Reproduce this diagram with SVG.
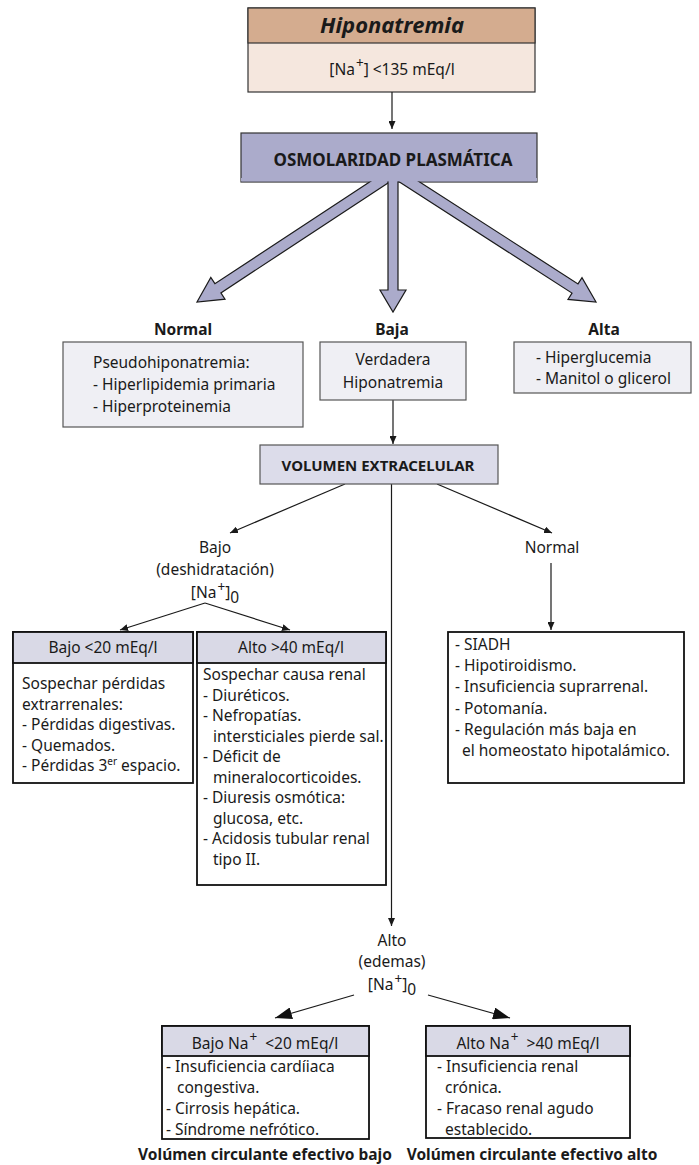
<svg xmlns="http://www.w3.org/2000/svg" width="699" height="1165" viewBox="0 0 699 1165">
<style>
.t{font-family:"Noto Sans","Open Sans","Liberation Sans",sans-serif;font-size:15.5px;fill:#1a1a1a}
.b{font-weight:bold}
.c{text-anchor:middle}
.title{font-size:22px;font-style:italic}
.osm{font-size:17px}
.vol{font-size:15px}
.foot{font-size:15.5px}
.sup{font-size:13.5px}
.sm{font-size:10px}
.ln{stroke:#1a1a1a;stroke-width:1.2;fill:none}
.lbox{fill:#efeff4;stroke:#555;stroke-width:1.2}
.cbox{fill:#fff;stroke:#111;stroke-width:1.8}
.hdr{fill:#d9d9e6;stroke:#111;stroke-width:1.8}
.fat{fill:#ababcb;stroke:#1a1a1a;stroke-width:1.2;stroke-linejoin:miter}
</style>
<defs>
<marker id="aS" markerUnits="userSpaceOnUse" markerWidth="8" markerHeight="7" refX="8" refY="3.5" orient="auto"><path d="M0,0 L8,3.5 L0,7 z" fill="#1a1a1a"/></marker>
<marker id="aB" markerUnits="userSpaceOnUse" markerWidth="17" markerHeight="12" refX="17" refY="6" orient="auto"><path d="M0,0 L17,6 L0,12 z" fill="#111"/></marker>
</defs>

<g id="hiponatremia">
<rect x="248" y="8" width="287" height="84" fill="#f5e7de" stroke="#333" stroke-width="1.2"/>
<rect x="248" y="8" width="287" height="35" fill="#d4ac8f" stroke="#333" stroke-width="1.2"/>
<text class="t b c title" x="392" y="33">Hiponatremia</text>
<text class="t c" x="392" y="75">[Na<tspan class="sup" dx="1" dy="-7">+</tspan><tspan dy="7">] &lt;135 mEq/l</tspan></text>
</g>

<g id="osmolaridad">
<rect x="241" y="133" width="296" height="49" fill="#ababcb" stroke="#333" stroke-width="1.2"/>
<text class="t b c osm" x="393" y="166">OSMOLARIDAD PLASMÁTICA</text>
</g>

<g id="connectors">
<line class="ln" x1="392" y1="92" x2="392" y2="129" marker-end="url(#aS)"/>
<path class="fat" d="M394.1,179 L220.9,292.9 L225,299.2 L197,302 L210.8,277.4 L214.9,283.7 L374.1,179"/>
<path class="fat" d="M394.8,179 L572,293.1 L568,299.4 L596,302 L582,277.6 L578,283.9 L415,179"/>
<path class="fat" d="M388,179 L388,290 L380,290 L393,312 L406,290 L398,290 L398,179"/>
<line class="ln" x1="393" y1="400" x2="393" y2="444" marker-end="url(#aS)"/>
<line class="ln" x1="345" y1="484" x2="230" y2="533" marker-end="url(#aS)"/>
<line class="ln" x1="437" y1="484" x2="552" y2="533" marker-end="url(#aS)"/>
<line class="ln" x1="391.5" y1="484" x2="391.5" y2="926" marker-end="url(#aS)"/>
<line class="ln" x1="205" y1="603" x2="120" y2="630" marker-end="url(#aS)"/>
<line class="ln" x1="205" y1="603" x2="290" y2="630" marker-end="url(#aS)"/>
<line class="ln" x1="551" y1="563" x2="551" y2="630" marker-end="url(#aS)"/>
<line class="ln" x1="354" y1="995" x2="275" y2="1018" marker-end="url(#aB)"/>
<line class="ln" x1="428" y1="995" x2="510" y2="1018" marker-end="url(#aB)"/>
</g>
<rect x="241" y="178" width="296" height="3.4" fill="#ababcb"/>

<g id="lbl-normal"><text class="t b c" x="183" y="335">Normal</text></g>
<g id="lbl-baja"><text class="t b c" x="392" y="335">Baja</text></g>
<g id="lbl-alta"><text class="t b c" x="604" y="335">Alta</text></g>

<g id="box-normal">
<rect class="lbox" x="63" y="342" width="240" height="85"/>
<text class="t" x="93" y="368">Pseudohiponatremia:</text>
<text class="t" x="93" y="390">- Hiperlipidemia primaria</text>
<text class="t" x="93" y="412">- Hiperproteinemia</text>
</g>

<g id="box-baja">
<rect class="lbox" x="320" y="342" width="146" height="58"/>
<text class="t c" x="393" y="365">Verdadera</text>
<text class="t c" x="393" y="388">Hiponatremia</text>
</g>

<g id="box-alta">
<rect class="lbox" x="514" y="342" width="177" height="51"/>
<text class="t" x="536" y="363">- Hiperglucemia</text>
<text class="t" x="536" y="384">- Manitol o glicerol</text>
</g>

<g id="volumen">
<rect x="260" y="445" width="238" height="39" fill="#dcdcea" stroke="#555" stroke-width="1.2"/>
<text class="t b c vol" x="378" y="471">VOLUMEN EXTRACELULAR</text>
</g>

<g id="lbl-bajo-deshid">
<text class="t c" x="215" y="553">Bajo</text>
<text class="t c" x="215" y="575">(deshidratación)</text>
<text class="t c" x="215" y="598">[Na<tspan class="sup" dx="1" dy="-6">+</tspan><tspan dy="6">]</tspan><tspan dy="5">0</tspan></text>
</g>

<g id="lbl-normal-vol"><text class="t c" x="552" y="553">Normal</text></g>

<g id="box-bajo20">
<rect class="cbox" x="13" y="632" width="180" height="151"/>
<rect class="hdr" x="13" y="632" width="180" height="31"/>
<text class="t c" x="103" y="653">Bajo &lt;20 mEq/l</text>
<text class="t" x="22" y="689">Sospechar pérdidas</text>
<text class="t" x="22" y="709.5">extrarrenales:</text>
<text class="t" x="22" y="730">- Pérdidas digestivas.</text>
<text class="t" x="22" y="750.5">- Quemados.</text>
<text class="t" x="22" y="771">- Pérdidas 3<tspan class="sm" dy="-6">er</tspan><tspan dy="6"> espacio.</tspan></text>
</g>

<g id="box-alto40">
<rect class="cbox" x="197" y="632" width="189" height="253"/>
<rect class="hdr" x="197" y="632" width="189" height="31"/>
<text class="t c" x="291" y="653">Alto &gt;40 mEq/l</text>
<text class="t" x="203" y="680">Sospechar causa renal</text>
<text class="t" x="203" y="700.5">- Diuréticos.</text>
<text class="t" x="203" y="721">- Nefropatías.</text>
<text class="t" x="213" y="741.5">intersticiales pierde sal.</text>
<text class="t" x="203" y="762">- Déficit de</text>
<text class="t" x="213" y="782.5">mineralocorticoides.</text>
<text class="t" x="203" y="803">- Diuresis osmótica:</text>
<text class="t" x="213" y="823.5">glucosa, etc.</text>
<text class="t" x="203" y="844">- Acidosis tubular renal</text>
<text class="t" x="213" y="864.5">tipo II.</text>
</g>

<g id="box-normal-vol">
<rect class="cbox" x="448" y="632" width="236" height="151"/>
<text class="t" x="455" y="650">- SIADH</text>
<text class="t" x="455" y="671">- Hipotiroidismo.</text>
<text class="t" x="455" y="692">- Insuficiencia suprarrenal.</text>
<text class="t" x="455" y="714">- Potomanía.</text>
<text class="t" x="455" y="735">- Regulación más baja en</text>
<text class="t" x="462" y="756">el homeostato hipotalámico.</text>
</g>

<g id="lbl-alto-edemas">
<text class="t c" x="392" y="946">Alto</text>
<text class="t c" x="392" y="967">(edemas)</text>
<text class="t c" x="392" y="990">[Na<tspan class="sup" dx="1" dy="-6">+</tspan><tspan dy="6">]</tspan><tspan dy="5">0</tspan></text>
</g>

<g id="box-bajo-na">
<rect class="cbox" x="162" y="1026" width="207" height="113"/>
<rect class="hdr" x="162" y="1026" width="207" height="30"/>
<text class="t c" x="265" y="1049">Bajo Na<tspan class="sup" dx="1" dy="-7">+</tspan><tspan dy="7">&#160;&#160;&lt;20 mEq/l</tspan></text>
<text class="t" x="166" y="1072">- Insuficiencia cardíiaca</text>
<text class="t" x="177" y="1093">congestiva.</text>
<text class="t" x="166" y="1114">- Cirrosis hepática.</text>
<text class="t" x="166" y="1135">- Síndrome nefrótico.</text>
</g>

<g id="box-alto-na">
<rect class="cbox" x="426" y="1026" width="204" height="112"/>
<rect class="hdr" x="426" y="1026" width="204" height="30"/>
<text class="t c" x="528" y="1049">Alto Na<tspan class="sup" dx="1" dy="-7">+</tspan><tspan dy="7">&#160;&#160;&gt;40 mEq/l</tspan></text>
<text class="t" x="437" y="1072">- Insuficiencia renal</text>
<text class="t" x="445" y="1093">crónica.</text>
<text class="t" x="437" y="1114">- Fracaso renal agudo</text>
<text class="t" x="445" y="1135">establecido.</text>
</g>

<g id="footer-bajo"><text class="t b c foot" x="265" y="1160">Volúmen circulante efectivo bajo</text></g>
<g id="footer-alto"><text class="t b c foot" x="532" y="1160">Volúmen circulante efectivo alto</text></g>
</svg>
